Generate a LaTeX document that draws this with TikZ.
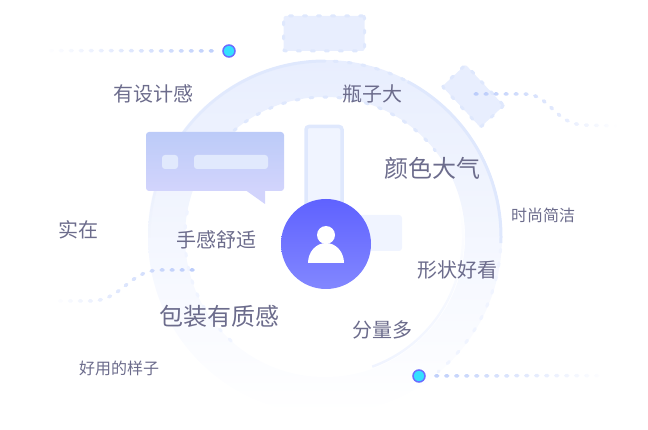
\documentclass[tikz,border=0pt]{standalone}
\usepackage{fontspec}
\setmainfont{Noto Sans CJK SC}
\usetikzlibrary{fadings}

\definecolor{ringfill}{HTML}{E8EEFE}
\definecolor{ringmid}{HTML}{F0F4FF}
\definecolor{ringline}{HTML}{DFE8FD}
\definecolor{ringpale}{HTML}{F0F4FF}
\definecolor{trailblue}{HTML}{BCCDFB}
\definecolor{wordgray}{HTML}{6C6C8C}
\definecolor{bubbletop}{HTML}{BCCBF8}
\definecolor{bubblebot}{HTML}{D2D4FC}
\definecolor{chipblue}{HTML}{E1E9FD}
\definecolor{avatartop}{HTML}{5F62FF}
\definecolor{avatarmid}{HTML}{7D82FF}
\definecolor{avatarbot}{HTML}{8287FF}
\definecolor{pinring}{HTML}{6A6CFF}
\definecolor{pinfill}{HTML}{33E0FF}

\tikzset{
    word/.style={text=wordgray, inner sep=0pt},
    small word/.style={word, font=\fontsize{16}{19}\selectfont},
    mid word/.style={word, font=\fontsize{20}{24}\selectfont},
    big word/.style={word, font=\fontsize{24}{29}\selectfont},
    dashbox/.style={draw=ringline, fill=ringfill, line width=3pt, line cap=round,
        dash pattern=on 3pt off 11pt, rounded corners=2pt, inner sep=0pt},
    beads/.style={draw=ringline, line width=3pt, line cap=round, dash pattern=on 3pt off 11pt},
    trail/.style={draw=trailblue, line width=3.5pt, line cap=round, dash pattern=on 2pt off 8pt},
    pin/.style={circle, draw=pinring, line width=1.5pt, fill=pinfill, minimum size=12pt, inner sep=0pt},
    barbox/.style={rounded corners=3pt, inner sep=0pt},
    chip/.style={fill=chipblue, rounded corners=3pt, inner sep=0pt}
}

\begin{document}
\begin{tikzpicture}[x=1pt, y=-1pt]

    \useasboundingbox (0,0) rectangle (648,430);

    \coordinate (ringc) at (325,237);

    \shade[even odd rule, top color=ringfill, middle color=ringmid, bottom color=white]
        (ringc) circle [radius=177pt] (ringc) circle [radius=140pt];

    \draw[ringline, line width=3pt, line cap=round, path fading=south]
        (ringc) ++(180:176pt) arc [start angle=180, end angle=90, radius=176pt];
    \draw[beads] (ringc) ++(87:176pt) arc [start angle=87, end angle=62, radius=176pt];
    \draw[ringline, line width=3pt] (ringc) ++(62:176pt) arc [start angle=62, end angle=-2, radius=176pt];
    \draw[beads, ringpale] (ringc) ++(-4:176pt) arc [start angle=-4, end angle=-50, radius=176pt];

    \draw[beads] (ringc) ++(142:140pt) arc [start angle=142, end angle=38, radius=140pt];
    \draw[beads, ringpale] (ringc) ++(228:140pt) arc [start angle=228, end angle=165, radius=140pt];
    \draw[ringpale, line width=2.5pt, path fading=north] (ringc) ++(15:138pt) arc [start angle=15, end angle=-70, radius=138pt];

    \node[dashbox, minimum width=56pt, minimum height=32pt, rotate=-47] (tiltbox) at (473,96) {};
    \node[dashbox, minimum width=81pt, minimum height=35pt] (topbox) at (324,33.5) {};

    \node[barbox, draw=ringline, line width=3.5pt, shade, top color=ringmid, bottom color=ringmid,
        minimum width=36pt, minimum height=125pt] (vbar) at (324,189) {};
    \node[barbox, fill=ringmid, minimum width=62pt, minimum height=36pt] (hbar) at (371,233) {};

    \node[barbox, shade, top color=bubbletop, bottom color=bubblebot,
        minimum width=138pt, minimum height=59pt] (bubble) at (215,161.5) {};
    \fill[bubblebot] (246,190.5) -- (265,204) -- (265,190.5) -- cycle;
    \node[chip, minimum width=16pt, minimum height=14pt] (chipa) at (170,162) {};
    \node[chip, minimum width=74pt, minimum height=14pt] (chipb) at (231,162) {};

    \node[circle, shade, top color=avatartop, middle color=avatarmid, bottom color=avatarbot, minimum size=90pt, inner sep=0pt] (avatar) at (326,244) {};
    \node[circle, fill=white, minimum size=18pt, inner sep=0pt] (head) at (326,235) {};
    \fill[white] (308,263) arc [start angle=180, end angle=0, x radius=18pt, y radius=20pt] -- cycle;

    \node[pin] (pina) at (229,51) {};
    \coordinate (trailaend) at (46,50.5);
    \draw[trail, shorten <=10pt, path fading=west] (pina) -- (trailaend);

    \node[pin] (pinb) at (419,376) {};
    \coordinate (trailbend) at (604,375.5);
    \draw[trail, shorten <=10pt, path fading=east] (pinb) -- (trailbend);

    \coordinate (trailcstart) at (475,94);
    \coordinate (trailcend) at (616,126);
    \draw[trail, path fading=east] (trailcstart) -- (525,94) .. controls (550,94) and (555,125) .. (585,125) -- (trailcend);

    \coordinate (traildstart) at (193,270);
    \coordinate (traildend) at (54,301);
    \draw[trail, path fading=west] (traildstart) -- (160,270) .. controls (130,270) and (122,300) .. (92,301) -- (traildend);

    \node[mid word] (design) at (153,94) {有设计感};
    \node[mid word] (bottle) at (372,94) {瓶子大};
    \node[big word] (colour) at (432,168) {颜色大气};
    \node[small word] (simple) at (543,215) {时尚简洁};
    \node[mid word] (solid) at (78,230) {实在};
    \node[mid word] (feel) at (216,240) {手感舒适};
    \node[mid word] (shape) at (457,270) {形状好看};
    \node[big word] (package) at (219,316) {包装有质感};
    \node[mid word] (amount) at (382,330) {分量多};
    \node[small word] (useful) at (119,368) {好用的样子};

\end{tikzpicture}
\end{document}
